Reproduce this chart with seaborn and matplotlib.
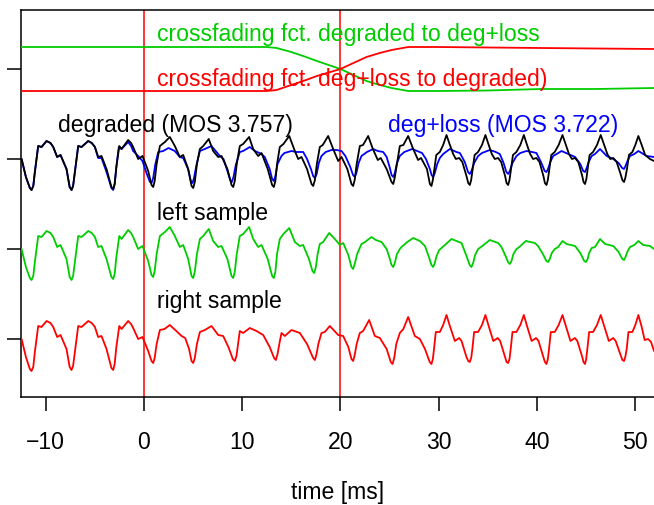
import matplotlib
matplotlib.use("Agg")
import matplotlib.pyplot as plt
import seaborn as sns
import pandas as pd

# waveform samples: (time in ms, amplitude in a.u.)
degraded = [
    (-12.44, 0), (-12.0, -18), (-11.6, -29), (-11.43, -31), (-11.25, -27), (-11.09, -13), (-10.75, 13), (-10.41, 12), (-9.90, 18), (-9.5, 16),
    (-9.22, 12), (-8.82, 2), (-8.48, 4), (-7.87, -10), (-7.55, -28), (-7.36, -31), (-7.2, -27),
    (-7.02, -13), (-6.68, 13), (-6.34, 12), (-5.66, 18), (-5.3, 16), (-4.98, 12), (-4.65, 2), (-4.31, 3), (-3.80, -10), (-3.3, -28), (-3.12, -30), (-2.97, -25),
    (-2.80, -8), (-2.50, 13), (-2.27, 10), (-1.60, 19), (-1.3, 16), (-1.09, 12), (-0.58, 0), (-0.14, 3), (0.44, -12), (0.78, -26), (0.95, -28), (1.10, -22),
    (1.30, -5), (1.63, 13), (2.14, 17), (2.64, 22), (3.15, 13), (3.66, 2), (4.00, 4), (4.51, -10), (4.85, -27), (5.02, -29), (5.18, -23),
    (5.40, -5), (5.70, 10), (6.04, 13), (6.60, 20), (7.05, 8), (7.56, 2), (7.90, 3), (8.50, -10), (8.92, -26), (9.09, -28), (9.25, -22),
    (9.45, -5), (9.76, 13), (10.10, 15), (10.71, 22), (11.12, 10), (11.63, 3), (11.97, 6), (12.60, -10), (13.05, -26), (13.22, -28), (13.38, -22),
    (13.55, -5), (13.83, 12), (14.20, 15), (14.79, 23), (15.36, 8), (15.70, 0), (16.04, 2), (16.60, -10), (17.06, -25), (17.23, -27), (17.40, -21),
    (17.60, -5), (17.90, 12), (18.20, 14), (18.75, 23), (19.26, 10), (19.77, -2), (20.11, 2), (20.70, -10), (21.12, -25), (21.29, -27), (21.45, -21),
    (21.65, -5), (21.97, 13), (22.30, 14), (22.82, 23), (23.30, 10), (23.80, -1), (24.10, 1), (24.70, -10), (25.20, -23), (25.37, -25), (25.52, -19),
    (25.75, -5), (26.04, 13), (26.40, 14), (26.89, 23), (27.40, 10), (27.90, -1), (28.20, 1), (28.80, -10), (29.10, -25), (29.26, -27), (29.40, -21),
    (29.55, -10), (29.75, 4), (30.11, 7), (30.45, 14), (30.79, 24), (31.10, 15), (31.47, 5), (31.74, 0), (32.08, 1), (32.40, -3), (32.82, -17), (33.0, -24), (33.16, -26), (33.30, -21),
    (33.45, -10), (33.65, 4), (34.00, 7), (34.40, 14), (34.75, 24), (35.05, 15), (35.40, 5), (35.70, 0), (36.04, 1), (36.35, -3), (36.75, -17), (36.9, -24), (37.06, -26), (37.20, -21),
    (37.35, -10), (37.55, 4), (37.90, 7), (38.30, 14), (38.66, 24), (38.95, 15), (39.30, 5), (39.60, 0), (39.94, 1), (40.25, -3), (40.65, -17), (40.8, -24), (40.96, -26), (41.10, -21),
    (41.25, -10), (41.45, 4), (41.80, 7), (42.20, 14), (42.59, 24), (42.90, 15), (43.25, 5), (43.55, 0), (43.87, 1), (44.20, -3), (44.60, -17), (44.73, -23), (44.88, -25), (45.02, -20),
    (45.15, -10), (45.35, 4), (45.70, 7), (46.10, 14), (46.48, 24), (46.80, 15), (47.15, 5), (47.45, 0), (47.76, 1), (48.10, -3), (48.50, -15), (48.68, -21), (48.85, -23), (48.98, -19),
    (49.15, -10), (49.35, 4), (49.70, 7), (50.00, 14), (50.31, 23), (50.65, 14), (51.00, 4), (51.49, 0), (51.90, -2),
]

deg_loss = [
    (-12.44, 0), (-12.0, -18), (-11.6, -29), (-11.43, -31), (-11.25, -27), (-11.09, -13), (-10.75, 13), (-10.41, 12), (-9.90, 18), (-9.5, 16),
    (-9.22, 12), (-8.82, 2), (-8.48, 4), (-7.87, -10), (-7.55, -28), (-7.36, -31), (-7.2, -27),
    (-7.02, -13), (-6.68, 13), (-6.34, 12), (-5.66, 18), (-5.3, 16), (-4.98, 12), (-4.65, 1), (-4.31, 1), (-3.80, -13), (-3.3, -29), (-3.12, -31), (-2.97, -25),
    (-2.80, -8), (-2.55, 12), (-2.27, 10), (-1.60, 17), (-1.3, 13), (-1.09, 8), (-0.58, 3), (-0.14, -2), (0.30, -15), (0.62, -23), (0.78, -24), (0.95, -19),
    (1.15, -6), (1.46, 7), (1.97, 8), (2.50, 11), (3.15, 8), (3.66, 2), (4.00, 1), (4.50, -10), (4.78, -22), (4.95, -24), (5.10, -19),
    (5.35, -6), (5.70, 8), (6.20, 10), (6.88, 13), (7.30, 8), (7.73, 3), (8.10, 0), (8.50, -12), (8.78, -21), (8.95, -23), (9.12, -18),
    (9.35, -6), (9.76, 7), (10.10, 8), (10.78, 12), (11.30, 8), (11.97, 5), (12.30, 2), (12.80, -10), (13.05, -20), (13.22, -22), (13.38, -17),
    (13.60, -5), (14.00, 3), (14.30, 6), (15.02, 8), (15.50, 7), (16.21, 7), (16.60, 0), (17.00, -10), (17.22, -17), (17.40, -19), (17.58, -15),
    (17.80, -4), (18.07, 3), (18.50, 7), (19.09, 9), (19.60, 9), (20.11, 8), (20.50, 3), (21.00, -8), (21.28, -16), (21.46, -18), (21.62, -14),
    (21.85, -4), (22.14, 3), (22.70, 7), (23.33, 10), (23.80, 8), (24.35, 7), (24.70, 2), (25.00, -8), (25.20, -16), (25.37, -18), (25.53, -14),
    (25.75, -4), (26.04, 3), (26.50, 7), (27.30, 10), (27.80, 8), (28.30, 6), (28.70, 0), (29.10, -10), (29.27, -16), (29.43, -18), (29.60, -14),
    (29.85, -5), (30.11, 1), (30.45, 5), (31.13, 10), (31.80, 7), (32.15, 6), (32.65, -3), (32.98, -13), (33.16, -15), (33.33, -12),
    (33.60, -4), (34.01, 3), (34.40, 6), (35.20, 9), (35.80, 7), (36.21, 5), (36.60, -4), (36.88, -13), (37.06, -15), (37.23, -12),
    (37.50, -4), (37.91, 3), (38.30, 6), (38.93, 8), (39.50, 7), (39.94, 6), (40.40, -3), (40.78, -12), (40.96, -13), (41.12, -10),
    (41.35, -3), (41.64, 3), (42.00, 5), (42.49, 8), (43.19, 5), (43.87, 2), (44.40, -5), (44.70, -12), (44.88, -13), (45.05, -9),
    (45.25, -3), (45.56, 3), (45.90, 5), (46.41, 10), (47.09, 3), (47.76, 0), (48.30, -4), (48.66, -9), (48.85, -10), (49.00, -7),
    (49.20, -2), (49.46, 3), (49.90, 5), (50.31, 8), (51.15, 3), (51.90, 2),
]

left_sample = [
    (-12.44, 0), (-12.0, -18), (-11.6, -29), (-11.43, -31), (-11.25, -27), (-11.09, -13), (-10.75, 13), (-10.41, 12), (-9.90, 18), (-9.5, 16),
    (-9.22, 12), (-8.82, 2), (-8.48, 4), (-7.87, -10), (-7.55, -28), (-7.36, -31), (-7.2, -27),
    (-7.02, -13), (-6.68, 13), (-6.34, 12), (-5.66, 18), (-5.3, 16), (-4.98, 12), (-4.65, 2), (-4.31, 3), (-3.80, -10), (-3.3, -28), (-3.12, -30), (-2.97, -25),
    (-2.80, -8), (-2.50, 13), (-2.27, 10), (-1.60, 19), (-1.3, 16), (-1.09, 12), (-0.58, 0), (-0.14, 3), (0.44, -12), (0.78, -26), (0.95, -28), (1.10, -22),
    (1.30, -5), (1.63, 13), (2.14, 17), (2.64, 22), (3.15, 13), (3.66, 2), (4.00, 4), (4.51, -10), (4.85, -27), (5.02, -29), (5.18, -23),
    (5.40, -5), (5.70, 10), (6.04, 13), (6.60, 20), (7.05, 8), (7.56, 2), (7.90, 3), (8.50, -10), (8.92, -27), (9.09, -29), (9.25, -23),
    (9.45, -5), (9.76, 13), (10.10, 15), (10.71, 22), (11.12, 10), (11.63, 2), (11.97, 4), (12.60, -10), (13.05, -27), (13.22, -29), (13.38, -23),
    (13.55, -5), (13.83, 10), (14.20, 15), (14.79, 21), (15.36, 7), (15.87, 3), (16.20, 4), (16.80, -10), (17.15, -22), (17.33, -24), (17.50, -18),
    (17.68, -5), (17.90, 5), (18.24, 7), (18.85, 16), (19.43, 10), (19.94, 4), (20.28, 6), (20.80, -6), (21.12, -18), (21.29, -20), (21.45, -15),
    (21.70, -5), (22.14, 5), (22.50, 7), (23.16, 12), (23.60, 9), (24.18, 7), (24.70, 0), (25.00, -9), (25.20, -16), (25.37, -18), (25.53, -14),
    (25.75, -5), (26.04, 0), (26.21, 2), (26.80, 7), (27.40, 11), (28.08, 8), (28.60, 3), (29.00, -8), (29.26, -16), (29.43, -18), (29.60, -14),
    (29.78, -7), (30.05, -1), (30.40, 2), (31.30, 10), (32.08, 7), (32.32, 6), (32.82, -7), (33.15, -16), (33.33, -18), (33.50, -14),
    (33.70, -6), (34.01, 0), (34.30, 2), (35.20, 9), (36.04, 6), (36.38, 2), (36.80, -7), (37.05, -13), (37.23, -15), (37.40, -12),
    (37.60, -5), (37.91, 0), (38.20, 2), (38.86, 8), (39.78, 6), (40.10, 3), (40.60, -5), (40.95, -12), (41.13, -13), (41.30, -10),
    (41.50, -4), (41.81, 0), (42.15, 2), (42.59, 8), (43.00, 5), (43.87, 3), (44.40, -4), (44.80, -12), (44.98, -13), (45.15, -10),
    (45.30, -4), (45.56, 1), (45.90, 2), (46.41, 10), (46.92, 5), (47.76, 3), (48.30, -3), (48.68, -10), (48.85, -11), (49.00, -8),
    (49.18, -3), (49.46, 2), (49.90, 4), (50.31, 8), (50.80, 4), (51.49, 3), (51.90, 0),
]

right_sample = [
    (-12.44, 0), (-12.0, -18), (-11.6, -30), (-11.43, -32), (-11.25, -28), (-11.09, -13), (-10.75, 13), (-10.41, 12), (-9.90, 18), (-9.5, 16),
    (-9.22, 12), (-8.82, 2), (-8.48, 4), (-7.87, -10), (-7.55, -28), (-7.36, -31), (-7.2, -27),
    (-7.02, -13), (-6.68, 13), (-6.34, 12), (-5.66, 18), (-5.3, 16), (-4.98, 12), (-4.65, 2), (-4.31, 3), (-3.80, -10), (-3.3, -29), (-3.12, -31), (-2.97, -25),
    (-2.80, -8), (-2.50, 13), (-2.27, 10), (-1.60, 18), (-1.3, 15), (-1.09, 11), (-0.58, 0), (-0.14, 2), (0.44, -12), (0.78, -22), (0.95, -24), (1.10, -19),
    (1.30, -5), (1.63, 9), (2.10, 10), (2.64, 14), (3.30, 8), (3.83, 3), (4.20, 1), (4.60, -10), (4.85, -22), (5.02, -24), (5.18, -19),
    (5.40, -5), (5.70, 7), (6.20, 9), (6.88, 13), (7.56, 4), (8.07, 3), (8.60, -8), (9.05, -20), (9.25, -22), (9.42, -17),
    (9.58, -5), (9.76, 8), (10.10, 6), (10.78, 11), (11.46, 8), (12.14, 4), (12.80, -8), (13.25, -19), (13.43, -21), (13.60, -15),
    (13.78, -5), (14.00, 6), (14.34, 3), (15.02, 9), (15.87, 6), (16.60, -5), (17.22, -19), (17.40, -21), (17.57, -15),
    (17.75, -5), (18.07, 6), (18.40, 7), (18.92, 13), (19.77, 4), (20.28, 3), (20.80, -8), (21.12, -20), (21.29, -22), (21.45, -16),
    (21.65, -5), (21.97, 6), (22.31, 8), (22.92, 19), (23.50, 3), (24.01, 1), (24.70, -10), (25.12, -23), (25.30, -25), (25.47, -19),
    (25.68, -5), (26.04, 6), (26.40, 10), (26.89, 22), (27.57, 3), (28.08, 0), (28.60, -10), (29.08, -23), (29.26, -25), (29.40, -20),
    (29.52, -10), (29.70, 7), (30.11, 7), (30.45, 14), (30.79, 24), (31.10, 14), (31.47, 3), (31.64, -2), (32.08, 1), (32.32, -2), (32.82, -18), (33.0, -22), (33.16, -23), (33.30, -19),
    (33.42, -10), (33.60, 7), (34.00, 7), (34.40, 14), (34.75, 24), (35.05, 14), (35.40, 3), (35.55, -2), (36.00, 1), (36.25, -2), (36.75, -18), (36.9, -23), (37.06, -24), (37.20, -20),
    (37.32, -10), (37.50, 7), (37.90, 7), (38.30, 14), (38.66, 24), (38.95, 14), (39.30, 3), (39.45, -2), (39.90, 1), (40.15, -2), (40.65, -18), (40.8, -23), (40.96, -25), (41.10, -20),
    (41.22, -10), (41.40, 7), (41.80, 7), (42.20, 14), (42.59, 24), (42.90, 14), (43.25, 3), (43.40, -2), (43.85, 1), (44.10, -2), (44.60, -18), (44.73, -23), (44.88, -25), (45.0, -20),
    (45.12, -10), (45.30, 7), (45.70, 7), (46.10, 14), (46.48, 24), (46.80, 14), (47.15, 3), (47.30, -2), (47.75, 1), (48.00, -2), (48.50, -16), (48.68, -21), (48.85, -22), (48.98, -18),
    (49.12, -10), (49.30, 7), (49.70, 7), (50.00, 14), (50.31, 24), (50.65, 12), (50.95, -1), (51.30, 0), (51.60, -3), (51.90, -12),
]

# crossfading functions (time in ms, weight in a.u.)
fade_deg_to_loss = [(-12.5, 22), (12.5, 22), (13.5, 21), (15.0, 17), (16.5, 12), (17.6, 8), (20.0, 0), (22.65, -12),
                    (24.0, -16), (25.2, -19), (26.9, -22), (30.0, -22), (35.0, -21.5), (40.4, -20), (46.0, -20), (51.9, -19)]
fade_loss_to_deg = [(-12.5, -22), (12.5, -22), (13.5, -21), (15.0, -16), (16.5, -11), (17.6, -7), (20.0, 0), (22.65, 12),
                    (24.0, 16), (25.2, 19), (26.9, 22), (30.0, 22), (35.0, 21.5), (40.4, 21), (46.0, 20.5), (51.9, 20)]

track_offset = {'fade1': 90, 'fade2': 90, 'deg_loss': 0, 'degraded': 0, 'left': -90, 'right': -180}
colors = {'fade1': '#00CD00', 'fade2': '#FF0000', 'deg_loss': '#0000FF', 'degraded': '#000000',
          'left': '#00CD00', 'right': '#FF0000'}

series = [('fade1', fade_deg_to_loss), ('fade2', fade_loss_to_deg), ('deg_loss', deg_loss),
          ('degraded', degraded), ('left', left_sample), ('right', right_sample)]
frames = []
for name, pts in series:
    d = pd.DataFrame(pts, columns=['t', 'amp'])
    d['y'] = d['amp'] + track_offset[name]
    d['series'] = name
    frames.append(d)
df = pd.concat(frames, ignore_index=True)

sns.set_style('white')
plt.rcParams['font.family'] = ['Liberation Sans', 'DejaVu Sans']
plt.rcParams['text.color'] = 'black'
plt.rcParams['xtick.color'] = 'black'

fig = plt.figure(figsize=(6.54, 5.06), dpi=100)
ax = fig.add_axes([21 / 654, 108 / 506, 633 / 654, 387 / 506])

for xv in [0, 20]:
    ax.axvline(xv, color='#FF0000', lw=1.1, zorder=1)

sns.lineplot(data=df, x='t', y='y', hue='series', palette=colors, estimator=None,
             sort=False, legend=False, lw=1.3, ax=ax, zorder=3)
for ln in ax.get_lines():
    ln.set_solid_joinstyle('round')

txt = dict(fontsize=16.6, ha='left', va='center')
ax.text(1.3, 125, 'crossfading fct. degraded to deg+loss', color='#00CD00', **txt)
ax.text(1.3, 80, 'crossfading fct. deg+loss to degraded)', color='#FF0000', **txt)
ax.text(-8.75, 34, 'degraded (MOS 3.757)', color='black', **txt)
ax.text(24.8, 34, 'deg+loss (MOS 3.722)', color='#0000FF', **txt)
ax.text(1.3, -54, 'left sample', color='black', **txt)
ax.text(1.3, -142, 'right sample', color='black', **txt)

ax.set_xlim(-12.5, 51.9)
ax.set_ylim(-238, 149)
ax.set_xticks([-10, 0, 10, 20, 30, 40, 50])
ax.set_yticks([90, 0, -90, -180])
ax.set_yticklabels([])
ax.tick_params(axis='both', direction='out', length=10, width=1.1, color='black',
               labelcolor='black', labelsize=16.6, pad=14, bottom=True, left=True)
ax.set_xlabel('time [ms]', fontsize=16.6, labelpad=19, color='black')
ax.set_ylabel('')

for s in ['left', 'top', 'bottom']:
    ax.spines[s].set_color('black')
    ax.spines[s].set_linewidth(1.1)
ax.spines['right'].set_visible(False)

fig.savefig('out.png', dpi=100)
